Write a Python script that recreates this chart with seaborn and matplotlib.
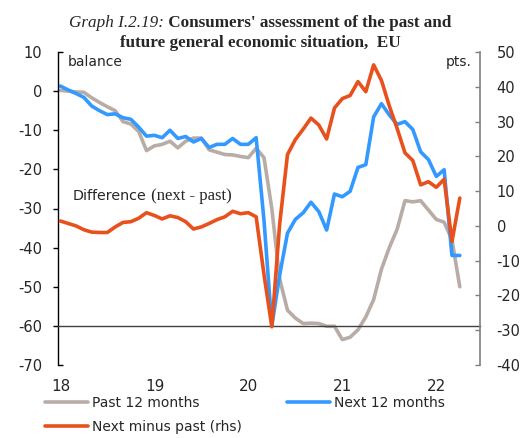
import numpy as np
import pandas as pd
import matplotlib
matplotlib.use('Agg')
import matplotlib.pyplot as plt
import seaborn as sns
from matplotlib.transforms import ScaledTranslation

# monthly survey data, Jan 2018 - Apr 2022
months = pd.date_range('2018-01-01', periods=52, freq='MS')

past_12m = [0.2, 0.0, -0.2, -0.3, -1.7, -2.9, -4.0, -5.0, -7.8, -8.4, -10.3, -15.2,
            -14.0, -13.6, -12.8, -14.5, -12.8, -12.0, -12.0, -15.0, -15.6, -16.2, -16.3, -16.7,
            -17.0, -14.6, -17.0, -30.0, -48.0, -56.0, -58.0, -59.4, -59.3, -59.4, -60.1, -60.1,
            -63.5, -62.9, -61.0, -57.7, -53.3, -45.5, -40.0, -35.3, -28.0, -28.3, -28.0, -30.4,
            -32.8, -33.5, -38.0, -50.0]

next_12m = [1.3, 0.3, -0.6, -1.6, -3.8, -5.0, -6.0, -5.8, -6.8, -7.2, -9.2, -11.5,
            -11.3, -11.9, -10.0, -12.1, -11.6, -13.0, -12.1, -14.4, -13.6, -13.6, -12.1, -13.6,
            -13.6, -11.9, -33.0, -60.0, -47.0, -36.3, -32.8, -31.1, -28.4, -30.8, -35.5, -26.3,
            -27.0, -25.6, -19.5, -18.8, -6.6, -3.2, -6.1, -8.5, -7.8, -9.8, -15.5, -17.5,
            -21.8, -20.1, -42.0, -42.0]

next_minus_past = [1.4, 0.7, 0.0, -1.1, -1.8, -1.9, -1.9, -0.3, 1.0, 1.2, 2.2, 3.8,
                   3.0, 2.0, 2.9, 2.4, 1.2, -0.9, -0.3, 0.7, 1.8, 2.6, 4.2, 3.5,
                   3.8, 2.6, -14.0, -29.0, 0.5, 20.5, 24.8, 27.8, 31.0, 29.0, 25.0, 33.9,
                   36.6, 37.5, 41.5, 38.6, 46.3, 41.8, 34.5, 28.0, 21.0, 18.8, 11.8, 12.7,
                   11.1, 13.4, -4.5, 8.0]

year_ticks = [2018, 2019, 2020, 2021, 2022]
year_labels = ['18', '19', '20', '21', '22']
lhs_major = [0, -10, -20, -30, -40, -50, -60]
lhs_ends = [10, -70]
rhs_ticks = [50, 40, 30, 20, 10, 0, -10, -20, -30, -40]

GREY = '#b8ada6'
BLUE = '#3399ff'
ORANGE = '#e8501c'
SERIF = 'Liberation Serif'

sns.set_theme(style='white')
plt.rcParams['font.family'] = ['DejaVu Sans']
plt.rcParams['axes.unicode_minus'] = False

W, H = 523, 438
fig = plt.figure(figsize=(W / 100, H / 100), dpi=100)
ax = fig.add_axes([58 / W, 1 - 365 / H, (480 - 58) / W, (365 - 52) / H])
ax2 = ax.twinx()

df = pd.DataFrame({
    'x': months.year + (months.month - 1 + 0.3) / 12,
    'past': past_12m,
    'next': next_12m,
    'diff': next_minus_past,
})

sns.lineplot(data=df, x='x', y='past', ax=ax, color=GREY, lw=2.6)
l_past = ax.lines[-1]
sns.lineplot(data=df, x='x', y='next', ax=ax, color=BLUE, lw=2.6)
l_next = ax.lines[-1]
sns.lineplot(data=df, x='x', y='diff', ax=ax2, color=ORANGE, lw=2.6)
l_diff = ax2.lines[-1]

# x axis: line at -60 (lhs), year ticks pointing up, labels far below
ax.set_xlim(2018, 2022.49)
ax.set_xticks(year_ticks)
ax.set_xticklabels(year_labels, family=SERIF, fontsize=11.5)
ax.spines['bottom'].set_position(('data', -60))
ax.spines['bottom'].set_color('#404040')
ax.spines['bottom'].set_linewidth(1)
ax.tick_params(axis='x', direction='in', length=3.5, width=1, color='#404040', pad=38)
for lbl in ax.get_xticklabels():
    lbl.set_transform(lbl.get_transform() + ScaledTranslation(3 / 100, 0, fig.dpi_scale_trans))
ax.set_xlabel('')

# left axis
ax.set_ylim(-70, 10)
ax.set_yticks(lhs_major)
ax.set_yticklabels([str(v) for v in lhs_major])
ax.set_yticks(lhs_ends, minor=True)
ax.set_yticklabels([str(v) for v in lhs_ends], minor=True)
ax.tick_params(axis='y', which='major', direction='out', length=3.6, width=1, color='black',
               pad=8, labelsize=10.5, left=True)
ax.tick_params(axis='y', which='minor', direction='in', length=3.6, width=1, color='black',
               pad=11.6, labelsize=10.5, left=True)
ax.set_ylabel('')
ax.spines['left'].set_color('black')
ax.spines['left'].set_linewidth(1)
for s in ['top', 'right']:
    ax.spines[s].set_visible(False)

# right axis
ax2.set_ylim(-40, 50)
ax2.set_yticks(rhs_ticks)
ax2.set_yticklabels([str(v) for v in rhs_ticks])
ax2.tick_params(axis='y', direction='in', length=3.6, width=1, color='#808080',
                pad=12, labelsize=10.5, right=True)
ax2.set_ylabel('')
for s in ['top', 'bottom', 'left']:
    ax2.spines[s].set_visible(False)
ax2.spines['right'].set_color('#808080')
ax2.spines['right'].set_linewidth(1.2)

# in-plot notes
fig.text(68 / W, 1 - 62 / H, 'balance', ha='left', va='center', fontsize=10)
fig.text(472 / W, 1 - 62 / H, 'pts.', ha='right', va='center', fontsize=10)

fig.canvas.draw()
rend = fig.canvas.get_renderer()


def two_part(y_px, a, a_kw, b, b_kw, x_left=None, x_center=None):
    ta = fig.text(0, 1 - y_px / H, a, ha='left', va='baseline', **a_kw)
    tb = fig.text(0, 1 - y_px / H, b, ha='left', va='baseline', **b_kw)
    wa = ta.get_window_extent(rend).width
    wb = tb.get_window_extent(rend).width
    if x_left is None:
        x_left = x_center - (wa + wb) / 2
    ta.set_x(x_left / W)
    tb.set_x((x_left + wa) / W)


two_part(27, 'Graph I.2.19:', dict(family=SERIF, style='italic', fontsize=12.3),
         " Consumers' assessment of the past and", dict(family=SERIF, weight='bold', fontsize=12.3),
         x_center=260)
fig.text(260 / W, 1 - 47 / H, 'future general economic situation,  EU', ha='center', va='baseline',
         family=SERIF, weight='bold', fontsize=12.3)
two_part(200, 'Difference', dict(fontsize=10.3), ' (next - past)', dict(family=SERIF, fontsize=12),
         x_left=73)

# legend below the chart
l_past.set_label('Past 12 months')
l_next.set_label('Next 12 months')
l_diff.set_label('Next minus past (rhs)')
fig.legend(handles=[l_past, l_diff, l_next], ncol=2, loc='upper left',
           bbox_to_anchor=(45 / W, 1 - 396 / H), frameon=False, fontsize=10,
           handlelength=3.1, handletextpad=0.3, columnspacing=3.2, labelspacing=0.7,
           borderpad=0, borderaxespad=0)

fig.savefig('out.png', dpi=100)
